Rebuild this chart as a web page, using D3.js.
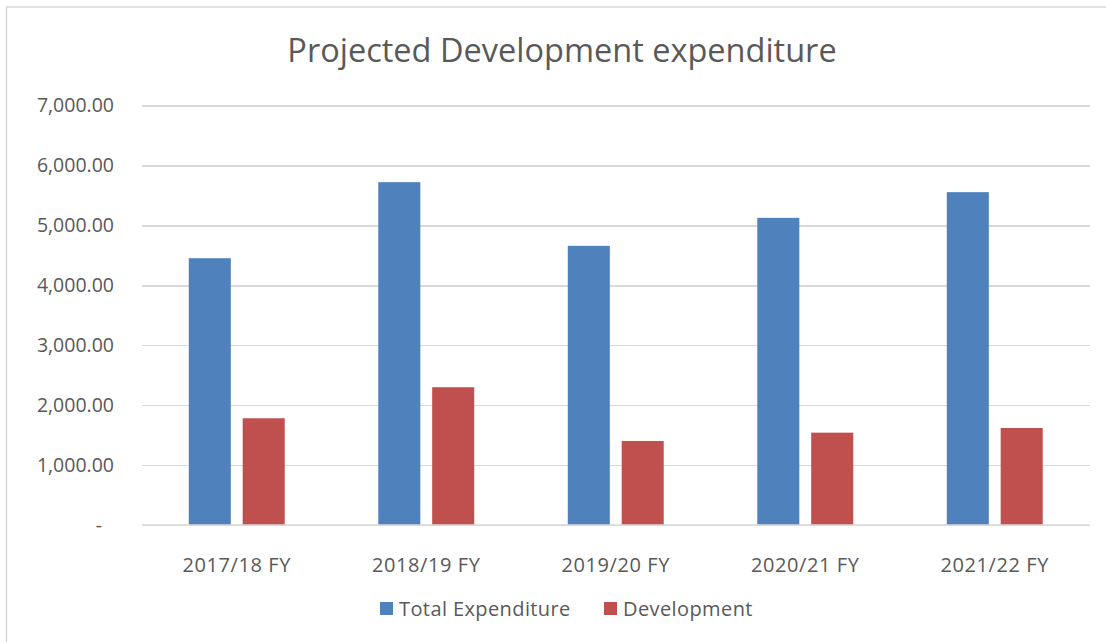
<!DOCTYPE html>
<meta charset="utf-8">

<!-- Load d3.js -->
<script src="https://d3js.org/d3.v7.min.js"></script>

<style>
  body { margin: 0; background: #fff; }
  text { font-family: "Open Sans", "Noto Sans", sans-serif; fill: #595959; }
  .grid line { stroke: #d9d9d9; stroke-width: 1.5px; shape-rendering: crispEdges; }
  .grid path { stroke-width: 0; }
</style>

<div id="chart"></div>

<script>
  // chart data
  var years = ["2017/18 FY", "2018/19 FY", "2019/20 FY", "2020/21 FY", "2021/22 FY"];
  var seriesNames = ["Total Expenditure", "Development"];
  var totalExpenditure = [4452, 5721, 4658, 5125, 5554];
  var development = [1781, 2299, 1402, 1541, 1619];
  var yTicks = [0, 1000, 2000, 3000, 4000, 5000, 6000, 7000];
  var colors = ["#4f81bd", "#c0504d"];

  var W = 1106, H = 642;
  var margin = {top: 105.5, right: 16.5, bottom: 117, left: 142},
      width = W - margin.left - margin.right,
      height = H - margin.top - margin.bottom;

  var svg = d3.select("#chart")
    .append("svg")
      .attr("width", W)
      .attr("height", H);

  // outer chart border (only top and left visible)
  svg.append("path")
    .attr("d", "M6.5," + H + "V7H" + W)
    .attr("fill", "none")
    .attr("stroke", "#d9d9d9")
    .attr("stroke-width", 1.5);

  // title
  svg.append("text")
    .attr("x", 562)
    .attr("y", 62)
    .attr("text-anchor", "middle")
    .style("font-size", "32.5px")
    .text("Projected Development expenditure");

  var chart = svg.append("g")
    .attr("transform", "translate(" + margin.left + "," + margin.top + ")");

  var y = d3.scaleLinear()
    .domain([0, 7000])
    .range([height, 0]);

  var x0 = d3.scaleBand()
    .domain(years)
    .range([0, width]);

  var x1 = d3.scaleBand()
    .domain(seriesNames)
    .range([0, x0.bandwidth()])
    .paddingInner(0.22)
    .paddingOuter(0.868);

  // horizontal gridlines
  chart.append("g")
    .attr("class", "grid")
    .call(d3.axisLeft(y)
      .tickValues(yTicks)
      .tickSize(-width)
      .tickFormat(""));

  // y labels
  var fmt = d3.format(",.2f");
  chart.selectAll(".ylab")
    .data(yTicks)
    .enter()
    .append("text")
      .attr("class", "ylab")
      .attr("x", function(d) { return d == 0 ? -40 : -28; })
      .attr("y", function(d) { return y(d); })
      .attr("dy", "0.35em")
      .attr("text-anchor", "end")
      .style("font-size", "19.5px")
      .text(function(d) { return d == 0 ? "-" : fmt(d); });

  // bars
  var rows = years.map(function(yr, i) {
    return {year: yr, values: [totalExpenditure[i], development[i]]};
  });

  var groups = chart.selectAll(".grp")
    .data(rows)
    .enter()
    .append("g")
      .attr("class", "grp")
      .attr("transform", function(d) { return "translate(" + x0(d.year) + ",0)"; });

  groups.selectAll("rect")
    .data(function(d) { return d.values.map(function(v, j) { return {name: seriesNames[j], value: v, k: j}; }); })
    .enter()
    .append("rect")
      .attr("x", function(d) { return x1(d.name); })
      .attr("y", function(d) { return y(d.value); })
      .attr("width", x1.bandwidth())
      .attr("height", function(d) { return y(0) - y(d.value); })
      .attr("fill", function(d) { return colors[d.k]; });

  // baseline
  chart.append("line")
    .attr("x1", 0).attr("x2", width)
    .attr("y1", height).attr("y2", height)
    .attr("stroke", "#d9d9d9")
    .attr("stroke-width", 1.5);

  // x labels
  chart.selectAll(".xlab")
    .data(years)
    .enter()
    .append("text")
      .attr("class", "xlab")
      .attr("x", function(d) { return x0(d) + x0.bandwidth() / 2; })
      .attr("y", height + 46.5)
      .attr("text-anchor", "middle")
      .style("font-size", "20px")
      .style("letter-spacing", "0.6px")
      .text(function(d) { return d; });

  // legend
  var legendX = [380, 604];
  seriesNames.forEach(function(name, i) {
    svg.append("rect")
      .attr("x", legendX[i])
      .attr("y", 602)
      .attr("width", 13)
      .attr("height", 13)
      .attr("fill", colors[i]);
    svg.append("text")
      .attr("x", legendX[i] + 19)
      .attr("y", 608.5)
      .attr("dy", "0.35em")
      .style("font-size", "20px")
      .style("letter-spacing", "0.4px")
      .text(name);
  });
</script>
